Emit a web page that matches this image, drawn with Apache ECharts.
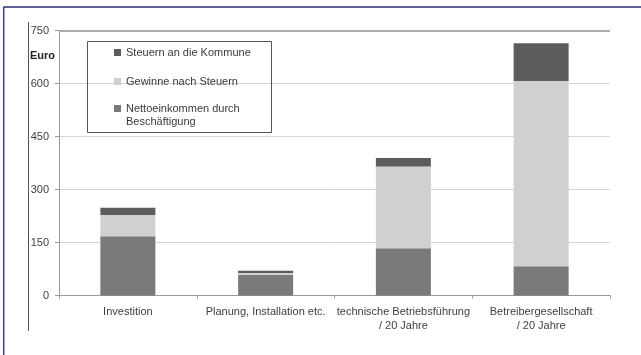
<!DOCTYPE html>
<html>
<head>
<meta charset="utf-8">
<script src="https://cdn.jsdelivr.net/npm/echarts@6/dist/echarts.min.js"></script>
<style>
  html, body { margin: 0; padding: 0; background: #fff; }
  #chart { width: 641px; height: 355px; }
</style>
</head>
<body>
<div id="chart"></div>
<script>
// categories and stacked values (Euro)
const categories = [
    'Investition',
    'Planung, Installation etc.',
    'technische Betriebsführung\n/ 20 Jahre',
    'Betreibergesellschaft\n/ 20 Jahre'
];
const nettoeinkommen = [168, 59, 134, 83];
const gewinne = [60, 5, 231, 524];
const steuern = [20, 6, 24, 107];
const yTicks = [0, 150, 300, 450, 600, 750];

const NAME_STEUERN = 'Steuern an die Kommune';
const NAME_GEWINNE = 'Gewinne nach Steuern';
const NAME_NETTO = 'Nettoeinkommen durch\nBeschäftigung';

const chart = echarts.init(document.getElementById('chart'));
const FONT = '"Liberation Sans", Arial, sans-serif';

chart.setOption({
    animation: false,
    textStyle: { fontFamily: FONT },
    grid: { left: 59, right: 31, top: 30.5, bottom: 59.5 },
    legend: [
        {
            data: [NAME_STEUERN, NAME_GEWINNE],
            orient: 'vertical',
            left: 114,
            top: 46,
            padding: 0,
            itemGap: 16,
            itemWidth: 7,
            itemHeight: 7,
            icon: 'rect',
            textStyle: { fontSize: 11, color: '#3a3a3a', lineHeight: 13, fontFamily: FONT }
        },
        {
            // second legend; a blank first line keeps the marker on "Nettoeinkommen durch"
            data: [NAME_NETTO],
            orient: 'vertical',
            left: 114,
            top: 89,
            padding: 0,
            itemWidth: 7,
            itemHeight: 7,
            icon: 'rect',
            formatter: name => ' \n' + name,
            textStyle: { fontSize: 11, color: '#3a3a3a', lineHeight: 13, fontFamily: FONT }
        }
    ],
    xAxis: {
        type: 'category',
        data: categories,
        axisLine: { lineStyle: { color: '#9a9a9a', width: 1 } },
        axisTick: { show: true, alignWithLabel: false, length: 3, lineStyle: { color: '#9a9a9a' } },
        axisLabel: {
            interval: 0,
            margin: 9,
            fontSize: 11,
            lineHeight: 14,
            color: '#404040',
            verticalAlign: 'top'
        }
    },
    yAxis: {
        type: 'value',
        min: 0,
        max: 750,
        interval: 150,
        name: 'Euro',
        nameLocation: 'end',
        nameGap: -25,
        nameTextStyle: {
            fontWeight: 'bold',
            fontSize: 11,
            color: '#222',
            align: 'right',
            verticalAlign: 'middle',
            padding: [0, 4, 0, 0]
        },
        axisLine: { show: true, lineStyle: { color: '#999', width: 1 } },
        axisTick: { show: true, length: 4, lineStyle: { color: '#999' } },
        axisLabel: {
            margin: 10,
            fontSize: 11,
            color: '#404040',
            formatter: v => (yTicks.includes(v) ? String(v) : '')
        },
        splitLine: { lineStyle: { color: '#d4d4d4', width: 1 } }
    },
    series: [
        {
            name: NAME_NETTO,
            type: 'bar',
            stack: 'total',
            barWidth: 55,
            itemStyle: { color: '#7a7a7c' },
            data: nettoeinkommen
        },
        {
            name: NAME_GEWINNE,
            type: 'bar',
            stack: 'total',
            barWidth: 55,
            itemStyle: { color: '#cfd0d2' },
            data: gewinne
        },
        {
            name: NAME_STEUERN,
            type: 'bar',
            stack: 'total',
            barWidth: 55,
            itemStyle: { color: '#5c5c5e' },
            data: steuern,
            markLine: {
                silent: true,
                symbol: 'none',
                label: { show: false },
                lineStyle: { color: '#ababab', width: 2, type: 'solid' },
                data: [{ yAxis: 750 }]
            }
        }
    ],
    graphic: [
        // legend frame
        {
            type: 'rect',
            shape: { x: 87.5, y: 41.5, width: 184, height: 91 },
            style: { fill: 'none', stroke: '#555', lineWidth: 1 },
            z: 10
        },
        // separate vertical line left of the value labels
        {
            type: 'line',
            shape: { x1: 28.5, y1: 22, x2: 28.5, y2: 331 },
            style: { stroke: '#555', lineWidth: 1 }
        },
        // outer frame
        {
            type: 'line',
            shape: { x1: 3.5, y1: 7, x2: 641, y2: 7 },
            style: { stroke: '#2b2b7a', lineWidth: 1.5 }
        },
        {
            type: 'line',
            shape: { x1: 3.7, y1: 7, x2: 3.7, y2: 355 },
            style: { stroke: '#3c3c90', lineWidth: 1.5 }
        }
    ]
});
</script>
</body>
</html>
